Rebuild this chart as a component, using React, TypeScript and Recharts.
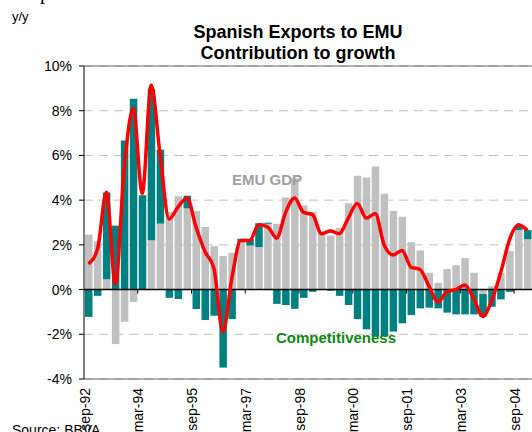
import {
  ComposedChart,
  Bar,
  Line,
  XAxis,
  YAxis,
  CartesianGrid,
  ReferenceLine,
} from "recharts";

const quarters = [
  "sep-92", "dec-92", "mar-93", "jun-93", "sep-93", "dec-93",
  "mar-94", "jun-94", "sep-94", "dec-94", "mar-95", "jun-95",
  "sep-95", "dec-95", "mar-96", "jun-96", "sep-96", "dec-96",
  "mar-97", "jun-97", "sep-97", "dec-97", "mar-98", "jun-98",
  "sep-98", "dec-98", "mar-99", "jun-99", "sep-99", "dec-99",
  "mar-00", "jun-00", "sep-00", "dec-00", "mar-01", "jun-01",
  "sep-01", "dec-01", "mar-02", "jun-02", "sep-02", "dec-02",
  "mar-03", "jun-03", "sep-03", "dec-03", "mar-04", "jun-04",
  "sep-04", "dec-04",
];

// contribution of EMU GDP (grey bars)
const emuGdp = [
  2.46, 2.16, 0.46, -2.44, -1.44, -0.55, 0.0, 2.21, 2.95, 3.47,
  4.17, 3.63, 3.52, 2.8, 1.94, 1.5, 1.64, 2.12, 1.97, 1.9,
  2.94, 2.94, 4.12, 4.98, 3.76, 3.48, 2.52, 2.41, 2.76, 3.86,
  5.09, 5.01, 5.51, 4.29, 3.52, 3.26, 2.12, 1.75, 0.75, 0.3,
  0.92, 1.09, 1.41, 0.75, -0.2, 0.15, 0.75, 1.72, 2.66, 2.25,
];

// contribution of competitiveness (teal bars)
const competitiveness = [
  -1.22, -0.28, 3.88, 2.86, 6.67, 8.53, 4.22, 6.77, 3.31, -0.37,
  -0.42, 0.57, -0.87, -1.36, -1.17, -3.49, -1.32, 0.15, 0.3, 1.07,
  0.05, -0.64, -0.69, -0.86, -0.37, -0.1, 0.05, -0.06, -0.28, -0.69,
  -1.32, -1.78, -2.1, -2.1, -1.88, -1.51, -1.14, -0.84, -0.81, -0.84,
  -1.03, -1.11, -1.11, -1.11, -1.01, -0.77, -0.44, -0.1, 0.19, 0.41,
];

// exports growth y/y (red line)
const exportsGrowth = [
  1.15, 1.8, 4.35, 0.25, 5.5, 8.1, 4.3, 9.15, 6.0, 3.15,
  3.7, 4.1, 2.8, 1.7, 0.95, -1.9, 0.5, 2.2, 2.2, 2.9,
  2.8, 2.3, 3.45, 4.1, 3.45, 3.35, 2.5, 2.62, 2.5, 3.2,
  3.85, 3.2, 3.4, 2.0, 1.55, 1.75, 1.0, 0.9, 0.15, -0.55,
  -0.1, 0.0, 0.2, -0.4, -1.2, -0.5, 0.75, 2.25, 2.9, 2.65,
];

const xTicks = [
  "sep-92", "mar-94", "sep-95", "mar-97", "sep-98",
  "mar-00", "sep-01", "mar-03", "sep-04",
];
const yTicks = [-4, -2, 0, 2, 4, 6, 8, 10];

const data = quarters.map((q, i) => ({
  q,
  gdp: emuGdp[i],
  comp: competitiveness[i],
  exp: exportsGrowth[i],
}));

const FONT = '"Liberation Sans", Arial, Helvetica, sans-serif';

function DateTick(props: any) {
  const { x, y, payload } = props;
  const off =
    payload && typeof payload.offset === "number" ? payload.offset : 4.5;
  const bx = x - off + 5.5;
  return (
    <text
      x={bx}
      y={y}
      transform={`rotate(-90, ${bx}, ${y})`}
      textAnchor="end"
      fontSize={14}
      fill="#000"
    >
      {payload.value}
    </text>
  );
}

export default function App() {
  return (
    <div
      style={{
        position: "absolute",
        left: 0,
        top: 0,
        width: 532,
        height: 432,
        overflow: "hidden",
        background: "#fff",
        fontFamily: FONT,
      }}
    >
      <ComposedChart
        width={540}
        height={432}
        data={data}
        stackOffset="sign"
        margin={{ top: 66, right: 8, bottom: 0, left: 0 }}
      >
        <CartesianGrid
          vertical={false}
          stroke="#c0c0c0"
          strokeDasharray="9 6"
        />
        <XAxis
          dataKey="q"
          ticks={xTicks}
          interval={0}
          height={53}
          tickSize={0}
          tickMargin={9}
          axisLine={false}
          tickLine={false}
          tick={<DateTick />}
        />
        <YAxis
          width={84}
          domain={[-4, 10]}
          ticks={yTicks}
          allowDataOverflow
          tickFormatter={(v: number) => `${v}%`}
          tickSize={5}
          tickMargin={7}
          axisLine={{ stroke: "#000" }}
          tickLine={{ stroke: "#000" }}
          tick={{ fill: "#000", fontSize: 14 }}
        />
        <Bar
          dataKey="gdp"
          stackId="a"
          fill="#c0c0c0"
          barSize={7.5}
          isAnimationActive={false}
        />
        <Bar
          dataKey="comp"
          stackId="a"
          fill="#008080"
          barSize={7.5}
          isAnimationActive={false}
        />
        <ReferenceLine y={10} stroke="#666" />
        <ReferenceLine y={-4} stroke="#666" />
        <ReferenceLine y={0} stroke="#000" strokeWidth={1.5} />
        {xTicks.map((t) => (
          <ReferenceLine
            key={t}
            segment={[
              { x: t, y: 0 },
              { x: t, y: -0.18 },
            ]}
            position="start"
            stroke="#000"
          />
        ))}
        <Line
          type="monotone"
          dataKey="exp"
          stroke="#ff0000"
          strokeWidth={3.5}
          dot={false}
          isAnimationActive={false}
        />
      </ComposedChart>
      <svg
        width={532}
        height={432}
        style={{ position: "absolute", left: 0, top: 0, pointerEvents: "none" }}
      >
        <text
          x={40}
          y={-1}
          fontFamily='"Liberation Serif", "Times New Roman", serif'
          fontSize={20}
        >
          p
        </text>
        <text x={12} y={21} fontSize={13} fill="#000">
          y/y
        </text>
        <text x={298} y={38} fontSize={18} fontWeight="bold" textAnchor="middle">
          Spanish Exports to EMU
        </text>
        <text x={298} y={59} fontSize={18} fontWeight="bold" textAnchor="middle">
          Contribution to growth
        </text>
        <text x={232} y={184.5} fontSize={15} fontWeight="bold" fill="#a0a0a0">
          EMU GDP
        </text>
        <text x={276} y={343} fontSize={15} fontWeight="bold" fill="#118811">
          Competitiveness
        </text>
        <text x={12} y={435} fontSize={14} fill="#000">
          Source: BBVA
        </text>
      </svg>
    </div>
  );
}
